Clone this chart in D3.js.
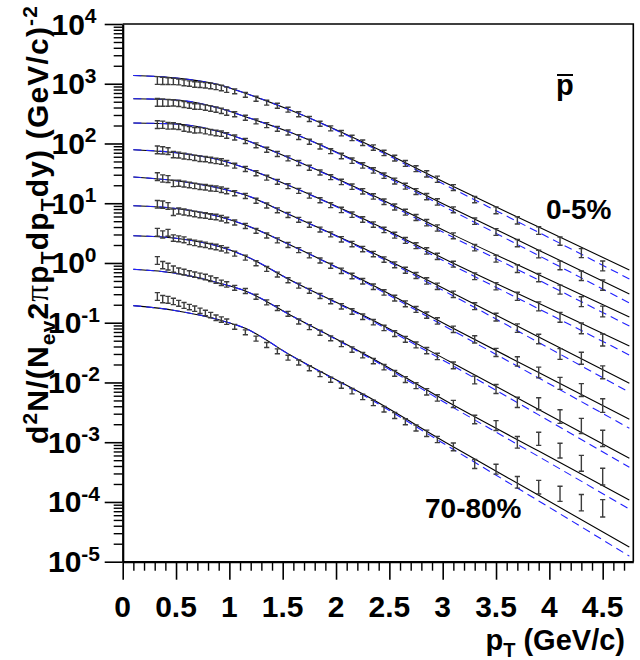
<!DOCTYPE html>
<html>
<head>
<meta charset="utf-8">
<script src="https://cdn.jsdelivr.net/npm/d3@7"></script>
<style>
  body { margin: 0; background: #fff; }
  text { font-family: "Liberation Sans", Arial, sans-serif; font-weight: bold; fill: #000; }
</style>
</head>
<body>
<div id="chart"></div>
<script>
// centrality classes, top (0-5%) to bottom (70-80%)
const centralities = ["0-5%", "5-10%", "10-20%", "20-30%", "30-40%", "40-50%", "50-60%", "60-70%", "70-80%"];

// pT bin centres of the measured points (GeV/c)
const ptPoints = [0.325, 0.375, 0.425, 0.475, 0.525, 0.575, 0.625, 0.675, 0.725, 0.775, 0.825, 0.875, 0.925, 0.975,
  1.05, 1.15, 1.25, 1.35, 1.45, 1.55, 1.65, 1.75, 1.85, 1.95, 2.05, 2.15, 2.25, 2.35, 2.45, 2.55, 2.65, 2.75, 2.85, 2.95,
  3.1, 3.3, 3.5, 3.7, 3.9, 4.1, 4.3, 4.5];

// measured yields per centrality class
const yield0_5 = [1133, 1120, 1107, 1094, 1073, 1037, 1005, 971, 962, 940, 917, 885, 849, 795,
  747, 653, 560, 482, 429, 368, 309, 257, 214, 179, 149, 124, 103, 85.3, 69.6, 56.9, 46.4, 37.8, 31.0, 25.2,
  18.3, 11.5, 7.61, 5.16, 3.49, 2.32, 1.46, 0.893];
const yield5_10 = [487, 483, 480, 478, 467, 449, 432, 416, 414, 399, 384, 369, 352, 329,
  309, 270, 234, 203, 176, 153, 128, 107, 89.0, 74.3, 61.7, 51.5, 43.0, 35.4, 28.9, 23.5, 19.3, 15.7, 12.9, 10.5,
  7.76, 5.00, 3.30, 2.15, 1.41, 0.910, 0.610, 0.426];
const yield10_20 = [207, 206, 198, 197, 192, 179, 173, 166, 167, 161, 155, 150, 146, 136,
  126, 110, 93.2, 78.7, 66.7, 56.3, 47.1, 39.2, 32.7, 27.3, 22.7, 18.9, 15.8, 13.0, 10.6, 8.65, 7.07, 5.77, 4.72, 3.85,
  2.85, 1.80, 1.18, 0.805, 0.569, 0.358, 0.225, 0.154];
const yield20_30 = [78.1, 76.9, 74.5, 65.4, 63.9, 61.7, 59.6, 57.6, 55.6, 54.8, 52.9, 51.1, 49.9, 46.8,
  42.5, 37.4, 31.7, 26.8, 22.8, 19.3, 16.1, 13.4, 11.2, 9.30, 7.73, 6.43, 5.34, 4.39, 3.58, 2.92, 2.38, 1.95, 1.59, 1.29,
  0.953, 0.600, 0.408, 0.277, 0.188, 0.123, 0.0803, 0.0513];
const yield30_40 = [27.9, 25.9, 25.4, 21.4, 21.6, 20.9, 20.2, 19.5, 18.8, 18.5, 17.8, 17.5, 16.8, 16.0,
  14.7, 13.2, 11.0, 9.16, 7.61, 6.35, 5.28, 4.37, 3.62, 3.01, 2.49, 2.07, 1.71, 1.41, 1.14, 0.932, 0.756, 0.617, 0.501, 0.407,
  0.299, 0.189, 0.124, 0.0812, 0.0534, 0.0300, 0.0254, 0.0148];
const yield40_50 = [9.59, 9.48, 8.99, 7.05, 7.41, 7.13, 6.86, 6.60, 6.35, 6.23, 5.99, 5.88, 5.61, 5.24,
  4.76, 4.16, 3.45, 2.88, 2.39, 2.00, 1.64, 1.34, 1.10, 0.900, 0.739, 0.605, 0.495, 0.400, 0.321, 0.258, 0.207, 0.167, 0.134, 0.107,
  0.0775, 0.0525, 0.0318, 0.0225, 0.0147, 0.00964, 0.00747, 0.00411];
const yield50_60 = [3.27, 3.00, 3.20, 2.61, 2.54, 2.44, 2.25, 2.17, 2.08, 2.01, 1.92, 1.85, 1.76, 1.64,
  1.43, 1.23, 0.991, 0.795, 0.639, 0.513, 0.418, 0.342, 0.280, 0.229, 0.188, 0.154, 0.126, 0.102, 0.0818, 0.0657, 0.0528, 0.0425, 0.0341, 0.0273,
  0.0193, 0.0110, 0.00779, 0.00465, 0.00441, 0.00269, 0.00187, 0.00116];
const yield60_70 = [1.10, 0.921, 0.869, 0.789, 0.736, 0.703, 0.669, 0.638, 0.610, 0.582, 0.545, 0.509, 0.465, 0.438,
  0.384, 0.339, 0.272, 0.219, 0.176, 0.141, 0.105, 0.0844, 0.0680, 0.0548, 0.0442, 0.0355, 0.0286, 0.0228, 0.0180, 0.0142, 0.0112, 0.00885, 0.00697, 0.00551,
  0.00436, 0.00240, 0.00190, 0.000995, 0.00114, 0.000723, 0.000443, 0.000265];
const yield70_80 = [0.275, 0.248, 0.242, 0.227, 0.211, 0.195, 0.183, 0.172, 0.158, 0.146, 0.134, 0.121, 0.113, 0.104,
  0.0854, 0.0691, 0.0542, 0.0423, 0.0332, 0.0260, 0.0216, 0.0173, 0.0138, 0.0111, 0.00889, 0.00714, 0.00573, 0.00455, 0.00356, 0.00280, 0.00220, 0.00173, 0.00141, 0.00111,
  0.000837, 0.000431, 0.000354, 0.000213, 0.000177, 0.000137, 0.0000971, 0.0000782];
const yields = [yield0_5, yield5_10, yield10_20, yield20_30, yield30_40, yield40_50, yield50_60, yield60_70, yield70_80];

// relative errors: shared for pT < 3 GeV/c, per class above
const errLowMid = [0.16, 0.15, 0.14, 0.13, 0.12, 0.12, 0.11, 0.11, 0.11, 0.11, 0.11, 0.11, 0.11, 0.11,
  0.10, 0.10, 0.10, 0.10, 0.10, 0.10, 0.10, 0.10, 0.10, 0.10, 0.11, 0.11, 0.11, 0.11, 0.11, 0.12, 0.12, 0.12, 0.13, 0.13];
const errHigh = [
  [0.12, 0.13, 0.14, 0.15, 0.16, 0.17, 0.19, 0.21],
  [0.12, 0.13, 0.14, 0.15, 0.16, 0.18, 0.20, 0.22],
  [0.12, 0.13, 0.14, 0.16, 0.17, 0.19, 0.21, 0.23],
  [0.12, 0.14, 0.15, 0.17, 0.19, 0.21, 0.23, 0.26],
  [0.13, 0.14, 0.16, 0.18, 0.20, 0.23, 0.26, 0.28],
  [0.13, 0.15, 0.17, 0.20, 0.23, 0.26, 0.28, 0.30],
  [0.14, 0.16, 0.19, 0.22, 0.26, 0.30, 0.34, 0.37],
  [0.15, 0.18, 0.21, 0.25, 0.29, 0.33, 0.36, 0.38],
  [0.16, 0.19, 0.21, 0.25, 0.30, 0.34, 0.37, 0.40]
];

// model curves read at these pT nodes
const ptFit = [0.1, 0.5, 0.91, 1.15, 1.57, 2.3, 3.07, 3.9, 4.75];
const fitSolid = [
  [1374, 1247, 953, 692, 363, 96.1, 20.2, 4.0, 0.762],
  [562, 535, 388, 281, 154, 40.7, 8.55, 1.64, 0.302],
  [220, 212, 157, 114, 56.5, 14.9, 3.13, 0.638, 0.1245],
  [78.7, 70.1, 52.9, 38.9, 19.4, 5.06, 1.05, 0.211, 0.0407],
  [27.5, 23.8, 17.8, 13.7, 6.35, 1.62, 0.330, 0.0577, 0.00968],
  [9.10, 8.17, 5.95, 4.32, 2.00, 0.466, 0.0857, 0.0147, 0.00242],
  [2.86, 2.59, 1.87, 1.31, 0.519, 0.121, 0.0222, 0.00354, 0.000537],
  [0.783, 0.671, 0.457, 0.340, 0.135, 0.0277, 0.00448, 0.000710, 0.000108],
  [0.193, 0.159, 0.111, 0.0805, 0.0288, 0.00575, 0.000897, 0.000129, 0.0000176]
];
const fitDashed = [
  [1374, 1247, 953, 692, 363, 92.5, 18.4, 3.25, 0.54],
  [562, 535, 388, 281, 154, 39.1, 7.8, 1.33, 0.214],
  [220, 212, 157, 114, 56.5, 14.3, 2.85, 0.517, 0.088],
  [78.7, 70.1, 52.9, 38.9, 19.4, 4.86, 0.955, 0.171, 0.0288],
  [27.5, 23.8, 17.8, 13.7, 6.35, 1.56, 0.300, 0.0467, 0.00684],
  [9.10, 8.17, 5.95, 4.32, 2.00, 0.447, 0.078, 0.0119, 0.00171],
  [2.86, 2.59, 1.87, 1.31, 0.519, 0.116, 0.0202, 0.00287, 0.00038],
  [0.783, 0.671, 0.457, 0.340, 0.135, 0.0266, 0.00408, 0.000575, 0.000076],
  [0.193, 0.159, 0.111, 0.0805, 0.0288, 0.00552, 0.000816, 0.000104, 0.0000124]
];

const xTicks = [0, 0.5, 1, 1.5, 2, 2.5, 3, 3.5, 4, 4.5];
const yDecades = [-5, -4, -3, -2, -1, 0, 1, 2, 3, 4];

// Chart geometry
const width = 640, height = 660;
const plot = { left: 122.7, right: 633.3, top: 24, bottom: 561.7 };

const svg = d3.select("#chart").append("svg")
  .attr("width", width)
  .attr("height", height);

const x = d3.scaleLinear().domain([0, 4.787]).range([plot.left, plot.right]);
const y = d3.scaleLog().domain([1e-5, 1e4]).range([plot.bottom, plot.top]);

// Frame (top / right)
svg.append("path")
  .attr("d", `M${plot.left},${plot.top}H${plot.right}V${plot.bottom}`)
  .attr("fill", "none")
  .attr("stroke", "#000")
  .attr("stroke-width", 1.6);

// Y axis: major and minor ticks
const yMinor = [];
yDecades.slice(0, -1).forEach(k => {
  for (let m = 2; m <= 9; m++) yMinor.push(m * Math.pow(10, k));
});

svg.append("g")
  .attr("transform", `translate(${plot.left},0)`)
  .call(d3.axisLeft(y).tickValues(yMinor).tickSize(9).tickFormat(""))
  .call(g => g.select(".domain").remove())
  .call(g => g.selectAll("line").attr("stroke-width", 1.4));

svg.append("g")
  .attr("transform", `translate(${plot.left},0)`)
  .call(d3.axisLeft(y).tickValues(yDecades.map(k => Math.pow(10, k))).tickSize(18).tickSizeOuter(0).tickFormat(""))
  .call(g => g.select(".domain").attr("stroke-width", 2.2))
  .call(g => g.selectAll("line").attr("stroke-width", 1.6));

// Y tick labels 10^k
yDecades.forEach(k => {
  const t = svg.append("text")
    .attr("x", 74)
    .attr("y", y(Math.pow(10, k)) + 10.5)
    .attr("text-anchor", "middle")
    .style("font-size", "30px");
  t.append("tspan").text("10");
  t.append("tspan").attr("dy", -11.5).style("font-size", "21px").text(k < 0 ? "-" + (-k) : String(k));
});

// X axis: major and minor ticks
const xMinor = d3.range(0, 48).map(i => i / 10).filter(v => Math.abs(v * 2 - Math.round(v * 2)) > 1e-6);

svg.append("g")
  .attr("transform", `translate(0,${plot.bottom})`)
  .call(d3.axisBottom(x).tickValues(xMinor).tickSize(9).tickFormat(""))
  .call(g => g.select(".domain").remove())
  .call(g => g.selectAll("line").attr("stroke-width", 1.4));

svg.append("g")
  .attr("transform", `translate(0,${plot.bottom})`)
  .call(d3.axisBottom(x).tickValues(xTicks).tickSize(18).tickSizeOuter(0).tickFormat(""))
  .call(g => g.select(".domain").attr("stroke-width", 2.2))
  .call(g => g.selectAll("line").attr("stroke-width", 1.6));

svg.append("g")
  .selectAll("text")
  .data(xTicks)
  .join("text")
  .attr("x", d => x(d))
  .attr("y", 617)
  .attr("text-anchor", "middle")
  .style("font-size", "30px")
  .text(d => String(d));

// Curves
const line = d3.line()
  .x(d => x(d[0]))
  .y(d => y(d[1]))
  .curve(d3.curveMonotoneX);

const curves = svg.append("g").attr("fill", "none");

fitSolid.forEach(vals => {
  curves.append("path")
    .attr("d", line(d3.zip(ptFit, vals)))
    .attr("stroke", "#000")
    .attr("stroke-width", 1.1);
});

fitDashed.forEach(vals => {
  curves.append("path")
    .attr("d", line(d3.zip(ptFit, vals)))
    .attr("stroke", "#1f1fff")
    .attr("stroke-width", 1.1)
    .attr("stroke-dasharray", "8,5");
});

// Data points as error bars
const capHalf = 2.6;
yields.forEach((vals, i) => {
  const pts = ptPoints.map((pt, j) => {
    const e = j < errLowMid.length ? errLowMid[j] : errHigh[i][j - errLowMid.length];
    return { pt, v: vals[j], hi: vals[j] * (1 + e), lo: vals[j] / (1 + e) };
  });

  const g = svg.append("g")
    .attr("stroke", "#3c3c3c")
    .attr("stroke-width", 1.4)
    .attr("fill", "none");

  g.selectAll("path")
    .data(pts)
    .join("path")
    .attr("d", d => {
      const cx = x(d.pt), y1 = y(d.hi), y0 = y(d.lo);
      return `M${cx},${y0}V${y1}M${cx - capHalf},${y1}H${cx + capHalf}M${cx - capHalf},${y0}H${cx + capHalf}`;
    });
});

// Y axis title
const yTitle = svg.append("text")
  .attr("transform", "translate(48,225) rotate(-90)")
  .attr("text-anchor", "middle")
  .attr("textLength", 438)
  .attr("lengthAdjust", "spacing")
  .style("font-size", "30px");

const parts = [
  ["d", "n"], ["2", "sup"], ["N/(N", "n"], ["ev", "sub"], ["2", "n"], ["\u03c0", "sym"],
  ["p", "n"], ["T", "sub"], ["dp", "n"], ["T", "sub"], ["dy) (GeV/c)", "n"], ["-2", "sup"]
];
let shift = 0;
parts.forEach(([s, kind]) => {
  const target = kind === "sup" ? -11 : kind === "sub" ? 7 : 0;
  const ts = yTitle.append("tspan").attr("dy", target - shift).text(s);
  if (kind === "sup" || kind === "sub") ts.style("font-size", "21px");
  if (kind === "sym") ts.style("font-family", "'Liberation Serif', 'DejaVu Serif', serif").style("font-weight", "normal").style("font-size", "33px");
  shift = target;
});

// X axis title
const xTitle = svg.append("text")
  .attr("x", 625)
  .attr("y", 650)
  .attr("text-anchor", "end")
  .style("font-size", "29px");
xTitle.append("tspan").text("p");
xTitle.append("tspan").attr("dy", 7).style("font-size", "20px").text("T");
xTitle.append("tspan").attr("dy", -7).text(" (GeV/c)");

// Particle label (anti-proton)
svg.append("text")
  .attr("x", 556)
  .attr("y", 95)
  .style("font-size", "29px")
  .text("p");
svg.append("line")
  .attr("x1", 557).attr("x2", 573)
  .attr("y1", 75).attr("y2", 75)
  .attr("stroke", "#000")
  .attr("stroke-width", 2);

// Centrality labels
svg.append("text")
  .attr("x", 546)
  .attr("y", 219)
  .style("font-size", "28px")
  .text(centralities[0]);

svg.append("text")
  .attr("x", 425)
  .attr("y", 518)
  .style("font-size", "28px")
  .text(centralities[centralities.length - 1]);
</script>
</body>
</html>
